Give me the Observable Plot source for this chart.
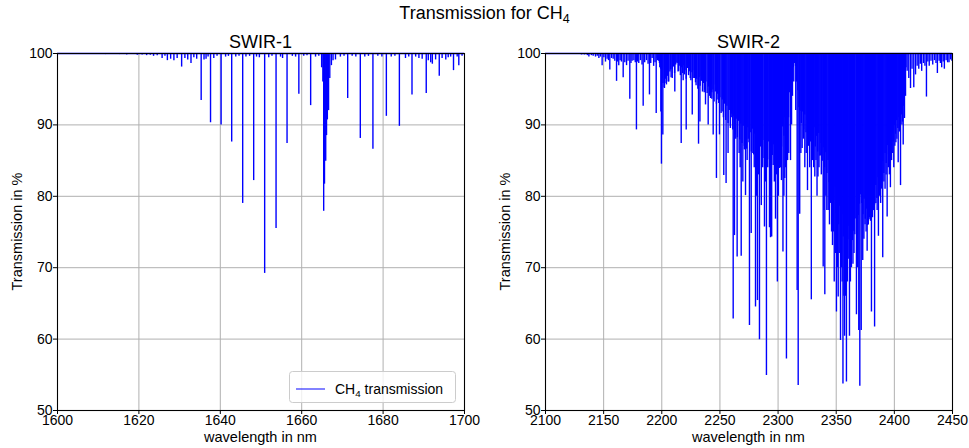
<!DOCTYPE html>
<html><head><meta charset="utf-8">
<script src="https://cdn.jsdelivr.net/npm/d3@7"></script>
<script src="https://cdn.jsdelivr.net/npm/@observablehq/plot@0.6"></script>
<style>
body{margin:0;background:#fff;}
#fig{position:relative;width:969px;height:448px;overflow:hidden;background:#fff;font-family:"Liberation Sans",Arial,sans-serif;}
#fig svg.panel{position:absolute;}
#overlay{position:absolute;left:0;top:0;pointer-events:none;}
</style></head>
<body><div id="fig"></div>
<script>
// ---------------- data ----------------
const figTitle = "Transmission for CH";
const panelTitles = ["SWIR-1", "SWIR-2"];
const xLabel = "wavelength in nm";
const yLabel = "Transmission in %";
const legendLabel = " transmission";
const yTicks = [50, 60, 70, 80, 90, 100];
const swir1Ticks = [1600, 1620, 1640, 1660, 1680, 1700];
const swir2Ticks = [2100, 2150, 2200, 2250, 2300, 2350, 2400, 2450];
const swir1Domain = [1600, 1700];
const swir2Domain = [2100, 2450];

// SWIR-1 absorption lines [wavelength nm, transmission %]
const swir1Lines = [
[1607.7,99.9],[1609.5,99.9],[1611.8,99.85],[1613.5,99.9],[1615.2,99.85],[1617.0,99.8],[1618.3,99.85],[1619.6,99.75],
[1620.8,99.8],[1621.9,99.7],[1622.8,99.75],[1623.6,99.6],[1624.5,99.7],[1625.7,99.3],[1626.4,99.6],[1627.0,99.0],
[1627.8,99.2],[1628.6,99.0],[1629.4,99.3],[1630.5,98.1],[1631.3,99.3],[1632.0,99.1],[1632.8,98.6],[1633.5,99.4],
[1634.2,99.2],[1635.3,93.4],[1636.0,99.1],[1636.5,99.2],[1637.0,99.5],[1637.6,90.3],[1638.4,99.3],[1639.2,99.6],
[1640.2,90.0],[1641.3,99.5],[1642.0,99.6],[1642.8,87.6],[1643.8,99.5],[1644.6,99.6],[1645.5,79.0],[1646.3,99.5],
[1647.2,99.6],[1648.2,82.2],[1648.9,99.5],[1649.6,99.4],[1650.9,69.2],[1651.9,99.4],[1652.7,99.6],[1653.7,75.5],
[1654.8,99.5],[1655.3,99.3],[1656.4,87.4],[1657.7,99.6],[1658.5,99.5],[1659.3,94.3],[1660.5,99.6],[1661.3,99.7],
[1662.2,92.7],[1663.4,99.5],[1664.2,99.6],[1664.9,98.0],[1665.2,96.0],[1665.4,77.9],[1665.6,81.7],[1665.9,84.9],
[1666.1,88.5],[1666.3,90.7],[1666.6,92.0],[1666.9,96.5],[1667.3,98.3],[1667.7,99.0],[1668.3,99.1],[1669.5,99.5],
[1670.4,99.6],[1671.3,93.7],[1672.4,99.6],[1673.3,99.5],[1674.4,88.1],[1675.5,99.5],[1676.4,99.6],[1677.5,86.6],
[1678.7,99.6],[1679.7,99.5],[1680.8,91.2],[1682.0,99.5],[1682.9,99.6],[1684.0,89.8],[1685.5,99.3],[1686.3,99.5],
[1687.1,94.2],[1688.0,99.5],[1688.8,99.3],[1689.6,99.2],[1690.6,94.4],[1691.1,99.0],[1691.7,98.7],[1692.1,98.5],
[1692.9,99.1],[1693.8,96.8],[1694.5,99.3],[1695.4,99.1],[1696.0,99.4],[1696.6,99.5],[1697.3,97.6],[1698.2,99.5],
[1698.6,98.3],[1699.4,99.6]
];

// SWIR-2 individually resolved lines [wavelength nm, transmission %]
const swir2Lines = [
[2131,99.8],[2133.5,99.8],[2136,99.7],[2137.3,99.5],[2139.5,99.7],[2141,99.6],[2143,99.5],[2144.5,99.6],[2145.9,99.3],
[2147.3,99.5],[2148.7,98.3],[2150.2,99.4],[2151.6,98.8],[2153,99.2],[2154.2,99.0],[2155.3,97.7],[2156.8,99.3],[2158.2,99.2],
[2159.6,98.9],[2161.1,96.1],[2162,98.8],[2163,98.3],[2164.2,99.0],[2165.3,98.8],[2166.8,96.6],[2168.2,98.7],[2169.7,98.3],
[2171,98.9],[2172.5,93.6],[2173.5,98.6],[2174.5,98.9],[2176,99.0],[2177.2,98.7],[2178.2,89.3],[2179.2,98.8],[2180.2,98.6],
[2181.7,99.0],[2183,98.4],[2184,92.6],[2185.3,98.7],[2186.8,99.0],[2188.2,98.5],[2189.4,94.2],[2190.5,98.6],[2191.7,99.3],
[2193,98.2],[2194.2,98.7],[2195.2,91.6],[2196.4,99.0],[2197.4,98.9],[2198.3,98.0],[2199.2,91.8],[2199.7,84.5],[2200.9,88.6],
[2202.3,95.1],[2203.7,95.8],[2205.5,96.0],[2207.5,97.7],[2209,96.5],[2211.2,94.6],[2213.2,98.6],[2214.5,97.5],[2216.7,87.4],
[2218.4,96.2],[2219.5,97.0],[2221,89.3],[2223.3,97.4],[2224.5,96.5],[2226.2,91.4],[2228.2,96.5],[2229.5,95.5],[2231.6,87.3],
[2232.8,90.4],[2234,96.8],[2235.6,96.3],[2236.5,94.5],[2237.6,92.8],[2239.9,90.0],[2241.9,93.7],[2243,94.5],[2244.2,88.6],
[2246.2,95.6],[2247.0,82.5],[2248.3,93.5],[2249.6,88.6],[2251.9,91.8],[2253.3,82.9],[2255.3,81.8],[2257.0,86.0],[2259,89.5],
[2260.2,91],[2261.4,62.8],[2262.5,74.5],[2263.6,88],[2264.8,71.5],[2266.5,86],[2267.4,84],[2268.3,71.6],[2269.7,82.0],
[2271.0,86.5],[2272.0,80.1],[2273.4,85],[2274.3,88],[2275.4,61.9],[2276.9,74.8],[2278.3,86],[2279.5,84],[2280.6,64.5],
[2281.5,80],[2282.3,65.4],[2283.2,83],[2284.0,59.9],[2285.6,78.7],[2286.8,84],[2288.3,75.7],[2289.2,82],[2290.0,54.9],
[2291.1,84],[2292.6,75.6],[2293.5,74.2],[2294.5,74.3],[2295.8,84.3],[2296.8,82],[2297.8,76.8],[2298.6,83],[2299.4,68.0],
[2300.3,80],[2301.2,83.9],[2302.1,84],[2302.9,82.2],[2304.2,72.2],[2305.0,80],[2305.8,82.5],[2306.5,84],[2307.2,57.2],
[2308.2,85],[2309.2,86],[2310.7,85.0],[2311.6,90],[2312.4,94],[2313.5,96],[2315.2,92],[2316.4,66.8],[2317.3,53.5],
[2318.6,77.5],[2319.6,86],[2320.7,86.7],[2321.8,88],[2323.0,84],[2324.2,86],[2325.3,80.8],[2326.3,87],[2327.2,84],
[2328.6,65.5],[2329.7,85],[2330.6,84],[2331.6,82.7],[2332.6,85],[2333.5,80],[2334.3,82.7],[2335.2,84],[2336.2,85.7],
[2337.2,83],[2338.8,70.1],[2339.5,78],[2340.2,66.2],[2341.1,80],[2341.9,78],[2343.1,78],[2344.2,76],[2345.0,79],
[2346.0,75],[2346.8,73.1],[2347.6,75],[2348.3,68.0],[2349.2,72],[2350.2,63.8],[2351.0,70],[2351.7,65.9],[2352.6,72],
[2353.7,59.8],[2354.5,70],[2355.1,68],[2355.8,53.7],[2356.6,66],[2357.2,60.4],[2358.1,66],[2358.8,54.0],[2359.6,68],
[2360.3,71.2],[2361.4,60.4],[2362.2,68],[2363.1,70],[2364.4,70.5],[2365.3,72],[2366.0,76.8],[2367.4,63.4],[2368.4,70],
[2369.4,61.2],[2370.3,53.4],[2371.5,61.2],[2372.8,71.0],[2373.8,74],[2374.8,76],[2375.7,75],[2376.6,72.3],[2377.6,76],
[2378.6,77],[2379.5,76.5],[2380.3,63.8],[2381.2,77],[2382.0,78],[2383.0,61.7],[2384.1,79],[2385.2,78],[2386.3,74.4],
[2387.3,80],[2388.2,79],[2389.1,81],[2390.0,71.4],[2391.0,82],[2392.0,81],[2392.9,83],[2393.8,77.1],[2394.8,84],
[2395.7,83],[2396.6,81.2],[2397.6,85],[2398.6,86],[2399.5,84],[2400.4,87],[2401.3,87.5],[2402.2,88],[2403.3,84.7],
[2404.3,89],[2405.3,81.5],[2406.5,90],[2407.6,87.2],[2408.7,90.9],[2409.6,94],[2411,97.5],[2412.4,96.5],[2413.9,95.1],
[2415.2,97.8],[2416.7,95.2],[2418.2,97.0],[2419.6,98.2],[2421,97.8],[2422.3,98.5],[2423.5,97.5],[2425,98.6],[2426.3,98.2],
[2427.6,93.9],[2428.8,98.8],[2430,98.2],[2431.5,98.9],[2433,98.4],[2434.5,99.0],[2435.8,98.6],[2437,97.2],[2438.5,98.9],
[2439.6,98.6],[2440.7,98.0],[2442,98.8],[2443,97.8],[2444.5,99.0],[2445.8,98.7],[2447,98.7],[2448.4,99.1],[2449.5,98.9]
];

// SWIR-2 dense band of unresolved weak lines: one read-off depth per nm, starting at 2196 nm
const swir2DenseStart = 2196;
const swir2DenseT = [
99.3,99.0,98.6,97.8,
96.5,95.8,95.2,96.4,95.6,96.8,96.0,97.4,96.6,97.8,
98.1,97.2,98.4,98.7,97.4,98.2,96.9,98.0,97.2,98.3,
97.6,96.4,97.9,96.9,97.5,96.2,97.3,96.5,97.6,95.9,
96.4,95.0,96.6,95.4,96.1,94.6,95.8,94.9,96.0,94.4,
95.3,94.0,95.6,93.6,94.9,93.2,94.6,92.9,94.3,93.0,
93.8,91.6,93.5,91.0,92.9,90.6,92.6,90.2,92.0,89.8,
91.5,89.3,91.2,88.6,90.8,88.2,90.5,87.9,90.1,87.4,
89.8,87.0,90.3,86.6,89.6,87.5,88.9,86.2,89.4,85.8,
88.7,86.4,89.2,85.6,88.5,86.9,88.1,85.3,87.8,86.2,
88.4,85.1,87.6,86.3,88.9,85.7,87.2,86.8,89.0,86.5,
88.6,87.3,90.2,86.9,89.7,88.4,91.0,89.6,92.4,91.0,
94.5,95.2,97.2,98.0,98.6,98.2,96.0,94.8,92.4,91.9,
90.2,91.8,89.3,91.4,88.9,90.6,88.2,90.9,87.6,89.8,
87.5,89.6,86.9,88.4,86.2,88.8,85.6,87.4,84.9,86.8,
84.0,86.1,83.2,85.0,81.9,84.2,80.6,82.8,79.4,81.3,
77.6,79.8,76.0,78.6,75.1,77.4,74.3,76.8,73.6,76.1,
73.9,75.8,73.2,76.4,73.8,75.1,74.6,76.9,74.9,77.3,
78.9,80.2,79.0,77.4,79.6,76.8,78.2,75.9,78.5,76.7,
79.4,77.9,80.6,78.8,81.5,79.7,82.6,80.9,83.8,82.0,
84.9,83.2,86.0,84.6,87.1,85.8,88.0,86.9,88.8,87.6,
89.9,88.7,90.6,89.5,91.0,90.1,91.4,90.4,92.6,95.0,
98.0
];

// ---------------- drawing ----------------
const FONT = "Liberation Sans, Arial, Helvetica, sans-serif";
const BLUE = "#0000ff";
const fig = document.getElementById("fig");

const swir2Dense = swir2DenseT.map((t, i) => [swir2DenseStart + i, t]);

function panel({lines, domain, ticks, left, width, ml, mr}) {
  const svg = Plot.plot({
    width, height: 418,
    marginLeft: ml, marginRight: mr, marginTop: 23, marginBottom: 38,
    style: {fontFamily: FONT, fontSize: "14px", color: "#000", background: "transparent", overflow: "visible"},
    x: {domain, label: null},
    y: {domain: [50, 100], label: null},
    marks: [
      Plot.gridX(ticks, {stroke: "#b0b0b0", strokeOpacity: 1, strokeWidth: 1}),
      Plot.gridY(yTicks, {stroke: "#b0b0b0", strokeOpacity: 1, strokeWidth: 1}),
      Plot.ruleY([100], {stroke: BLUE, strokeWidth: 1.4}),
      ...lines.map(ls => Plot.ruleX(ls, {x: d => d[0], y1: d => d[1], y2: 100, stroke: BLUE, strokeWidth: 1.4})),
      Plot.frame({stroke: "#000", strokeWidth: 1.1}),
      Plot.axisX(ticks, {tickSize: 4, tickPadding: 1, fontSize: 14, tickFormat: d => String(d), label: null}),
      Plot.axisY(yTicks, {tickSize: 4, tickPadding: 1, fontSize: 14, tickFormat: d => String(d), label: null})
    ]
  });
  svg.classList.add("panel");
  svg.style.left = left + "px";
  svg.style.top = "30px";
  fig.appendChild(svg);
}

panel({lines: [swir1Lines], domain: swir1Domain, ticks: swir1Ticks, left: 0, width: 480, ml: 57, mr: 16});
panel({lines: [swir2Dense, swir2Lines], domain: swir2Domain, ticks: swir2Ticks, left: 485, width: 484, ml: 60, mr: 17});

// overlay: titles, axis labels, legend
const ov = d3.select(fig).append("svg").attr("id", "overlay")
  .attr("width", 969).attr("height", 448)
  .style("font-family", FONT);

const t = ov.append("text").attr("x", 484.5).attr("y", 19).attr("text-anchor", "middle").attr("font-size", 18);
t.append("tspan").text(figTitle);
t.append("tspan").attr("font-size", 12.5).attr("dy", 4).text("4");

[[260.5, panelTitles[0]], [748.5, panelTitles[1]]].forEach(([x, s]) => {
  ov.append("text").attr("x", x).attr("y", 48).attr("text-anchor", "middle").attr("font-size", 18).text(s);
  ov.append("text").attr("x", x).attr("y", 442).attr("text-anchor", "middle").attr("font-size", 14.5).text(xLabel);
});
[22, 510].forEach(x => {
  ov.append("text").attr("transform", `translate(${x},231.5) rotate(-90)`)
    .attr("text-anchor", "middle").attr("font-size", 14.5).text(yLabel);
});

// legend
ov.append("rect").attr("x", 289.5).attr("y", 371.5).attr("width", 166).attr("height", 31).attr("rx", 3)
  .attr("fill", "#fff").attr("fill-opacity", 0.8).attr("stroke", "#cccccc");
ov.append("line").attr("x1", 296).attr("x2", 325).attr("y1", 389).attr("y2", 389)
  .attr("stroke", BLUE).attr("stroke-width", 1.4).attr("stroke-opacity", 0.7);
const lt = ov.append("text").attr("x", 335).attr("y", 393.5).attr("font-size", 14);
lt.append("tspan").text("CH");
lt.append("tspan").attr("font-size", 9.8).attr("dy", 3).text("4");
lt.append("tspan").attr("dy", -3).text(legendLabel);
</script>
</body></html>
